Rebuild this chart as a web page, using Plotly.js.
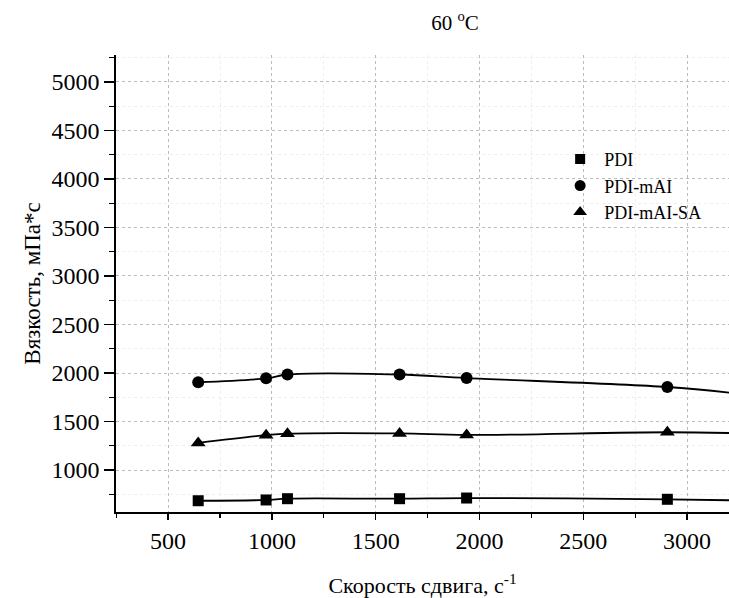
<!DOCTYPE html>
<html>
<head>
<meta charset="utf-8">
<script src="https://cdn.plot.ly/plotly-3.0.1.min.js"></script>
<style>html,body{margin:0;padding:0;background:#fff;}</style>
</head>
<body>
<div id="chart" style="width:729px;height:598px;"></div>
<script>
// Shear rate, 1/s (last point lies beyond the visible right edge)
const shearRate = [645, 972, 1075, 1615, 1938, 2905, 3240];
const viscPDI = [684, 692, 705, 705, 712, 699, 688];
const viscPDImAI = [1905, 1945, 1985, 1985, 1948, 1856, 1790];
const viscPDImAISA = [1280, 1360, 1375, 1378, 1362, 1390, 1380];
const seriesNames = ['PDI', 'PDI-mAI', 'PDI-mAI-SA'];
const titleText = '60 <sup>o</sup>C';
const xTitle = 'Скорость сдвига, с<sup>-1</sup>';
const yTitle = 'Вязкость, мПа*с';

const font = "'Liberation Serif'";
const symbols = ['square', 'circle', 'triangle-up'];
const sizes = [11, 12, 13];
const series = [viscPDI, viscPDImAI, viscPDImAISA];
const data = [];
series.forEach((y, i) => {
  data.push({
    x: shearRate, y: y, name: seriesNames[i], type: 'scatter', mode: 'lines+markers',
    showlegend: false,
    line: {color: '#000', width: 1.8, shape: 'spline', smoothing: 1},
    marker: {symbol: symbols[i], size: sizes[i], color: '#000'}
  });
});
series.forEach((y, i) => {
  data.push({
    x: [null], y: [null], name: seriesNames[i], type: 'scatter', mode: 'markers',
    marker: {symbol: symbols[i], size: sizes[i] - 1, color: '#000'}
  });
});
const layout = {
  width: 729, height: 598,
  margin: {l: 116, r: 0, t: 55, b: 86},
  paper_bgcolor: '#fff', plot_bgcolor: '#fff',
  showlegend: true,
  font: {family: font, color: '#000', size: 20},
  title: {text: titleText, x: 0.553, xref: 'paper', xanchor: 'center', y: 0.962, yanchor: 'middle', font: {family: font, size: 21, color: '#000'}},
  legend: {x: 0.718, y: 0.812, xanchor: 'left', yanchor: 'top', bgcolor: 'rgba(0,0,0,0)', borderwidth: 0, font: {family: font, size: 18, color: '#000'}, tracegroupgap: 0, itemwidth: 38},
  xaxis: {
    range: [249, 3202], tickvals: [500, 1000, 1500, 2000, 2500, 3000],
    showline: true, linecolor: '#000', linewidth: 1.8, mirror: false,
    ticks: 'outside', ticklen: 6, tickwidth: 1.4, tickcolor: '#000',
    showgrid: true, gridcolor: '#bbb', griddash: 'dot', gridwidth: 1,
    minor: {dtick: 250, tick0: 0, ticks: 'outside', ticklen: 4, tickwidth: 1.2, tickcolor: '#000', showgrid: true, gridcolor: '#eee', gridwidth: 1},
    zeroline: false,
    tickfont: {family: font, size: 24, color: '#000'},
    title: {text: xTitle, font: {family: font, size: 22, color: '#000'}, standoff: 26}
  },
  yaxis: {
    range: [568, 5277], tickvals: [1000, 1500, 2000, 2500, 3000, 3500, 4000, 4500, 5000],
    showline: true, linecolor: '#000', linewidth: 1.8,
    ticks: 'outside', ticklen: 10, tickwidth: 1.4, tickcolor: '#000',
    showgrid: true, gridcolor: '#bbb', griddash: 'dot', gridwidth: 1,
    minor: {dtick: 250, tick0: 0, ticks: 'outside', ticklen: 5, tickwidth: 1.2, tickcolor: '#000', showgrid: true, gridcolor: '#eee', gridwidth: 1},
    zeroline: false,
    tickfont: {family: font, size: 24, color: '#000'},
    title: {text: yTitle, font: {family: font, size: 23, color: '#000'}, standoff: 4}
  }
};
Plotly.newPlot('chart', data, layout, {displayModeBar: false, staticPlot: true});
</script>
</body>
</html>
